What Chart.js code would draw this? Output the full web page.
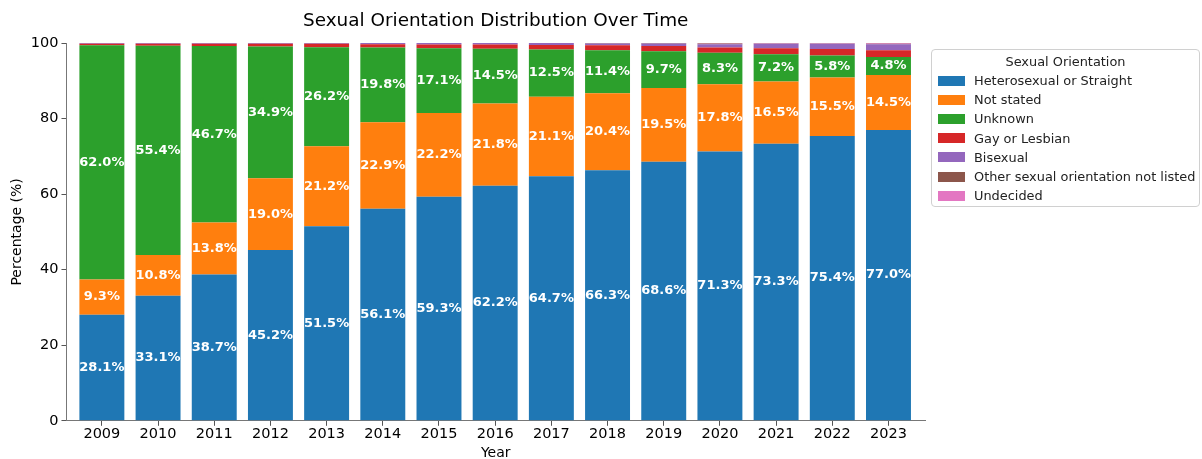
<!DOCTYPE html>
<html>
<head>
<meta charset="utf-8">
<script src="https://cdn.jsdelivr.net/npm/chart.js@4.4.0/dist/chart.umd.min.js"></script>
<style>
  body { margin: 0; background: #fff; font-family: "DejaVu Sans", sans-serif; }
  #wrap { position: relative; width: 1202px; height: 459px; }
  #legend {
    position: absolute; left: 931px; top: 49px; width: 267px; height: 156px;
    border: 1px solid #d0d0d0; border-radius: 4px; font-size: 12.9px; color: #222;
    white-space: nowrap;
  }
  #legend .ttl { text-align: center; margin-top: 4px; margin-bottom: 2px; }
  #legend .row { height: 19.2px; display: flex; align-items: center; padding-left: 6px; }
  #legend .sw { width: 27px; height: 10px; margin-right: 9px; flex: none; }
</style>
</head>
<body>
<div id="wrap">
  <canvas id="c" width="1202" height="459"></canvas>
  <div id="legend"></div>
</div>
<script>
const years = ["2009","2010","2011","2012","2013","2014","2015","2016","2017","2018","2019","2020","2021","2022","2023"];

const hetero    = [28.1, 33.1, 38.7, 45.2, 51.5, 56.1, 59.3, 62.2, 64.7, 66.3, 68.6, 71.3, 73.3, 75.4, 77.0];
const notStated = [9.3, 10.8, 13.8, 19.0, 21.2, 22.9, 22.2, 21.8, 21.1, 20.4, 19.5, 17.8, 16.5, 15.5, 14.5];
const unknown   = [62.0, 55.4, 46.7, 34.9, 26.2, 19.8, 17.1, 14.5, 12.5, 11.4, 9.7, 8.3, 7.2, 5.8, 4.8];
const gay       = [0.4, 0.5, 0.6, 0.7, 0.9, 0.9, 1.0, 1.1, 1.2, 1.3, 1.4, 1.4, 1.6, 1.7, 1.8];
const bisexual  = [0.2, 0.2, 0.2, 0.2, 0.2, 0.3, 0.4, 0.4, 0.5, 0.5, 0.7, 0.9, 1.2, 1.4, 1.6];
const other     = [0.0, 0.0, 0.0, 0.0, 0.0, 0.0, 0.0, 0.0, 0.0, 0.1, 0.1, 0.2, 0.1, 0.1, 0.1];
const undecided = [0.0, 0.0, 0.0, 0.0, 0.0, 0.0, 0.0, 0.0, 0.0, 0.0, 0.0, 0.1, 0.1, 0.1, 0.2];

const series = [
  { label: "Heterosexual or Straight", data: hetero, color: "#1f77b4", show: true },
  { label: "Not stated", data: notStated, color: "#ff7f0e", show: true },
  { label: "Unknown", data: unknown, color: "#2ca02c", show: true },
  { label: "Gay or Lesbian", data: gay, color: "#d62728", show: false },
  { label: "Bisexual", data: bisexual, color: "#9467bd", show: false },
  { label: "Other sexual orientation not listed", data: other, color: "#8c564b", show: false },
  { label: "Undecided", data: undecided, color: "#e377c2", show: false },
];

/* segment labels + title */
const labelPlugin = {
  id: "segLabels",
  afterDatasetsDraw(chart) {
    const ctx = chart.ctx;
    ctx.save();
    ctx.fillStyle = "#fff";
    ctx.font = "bold 13px 'DejaVu Sans'";
    ctx.textAlign = "center";
    ctx.textBaseline = "middle";
    chart.data.datasets.forEach((ds, i) => {
      if (!series[i].show) return;
      chart.getDatasetMeta(i).data.forEach((bar, j) => {
        const y = (bar.y + bar.base) / 2;
        ctx.fillText(series[i].data[j].toFixed(1) + "%", bar.x, y);
      });
    });
    const a = chart.chartArea;
    ctx.fillStyle = "#000";
    ctx.font = "18.4px 'DejaVu Sans'";
    ctx.textBaseline = "alphabetic";
    ctx.fillText("Sexual Orientation Distribution Over Time", (a.left + a.right) / 2, 26);
    ctx.restore();
  },
};

const chart = new Chart(document.getElementById("c"), {
  type: "bar",
  data: {
    datasets: series.map((s) => ({
      label: s.label,
      data: s.data.map((v, i) => ({ x: i, y: v })),
      backgroundColor: s.color,
      borderWidth: 0,
      barPercentage: 0.8,
      categoryPercentage: 1.0,
    })),
  },
  options: {
    responsive: false,
    animation: false,
    layout: { padding: { top: 43, right: 277, left: 9, bottom: -3 } },
    plugins: { legend: { display: false }, tooltip: { enabled: false } },
    scales: {
      x: {
        type: "linear",
        stacked: true,
        offset: false,
        min: -0.63,
        max: 14.65,
        afterBuildTicks: (scale) => { scale.ticks = years.map((_, i) => ({ value: i })); },
        grid: { display: true, offset: false, drawOnChartArea: false, tickLength: 5, color: "#555", tickColor: "#555" },
        border: { display: true, color: "#777" },
        ticks: {
          color: "#000", font: { size: 14.5, family: "DejaVu Sans" }, padding: 0,
          autoSkip: false, maxRotation: 0,
          callback: (v) => years[v],
        },
        title: { display: true, text: "Year", color: "#000", font: { size: 14, family: "DejaVu Sans" }, padding: { top: 2, bottom: 0 } },
      },
      y: {
        stacked: true,
        min: 0,
        max: 100,
        ticks: { stepSize: 20, color: "#000", font: { size: 14.5, family: "DejaVu Sans" }, padding: 3 },
        grid: { display: true, drawOnChartArea: false, tickLength: 5, color: "#555", tickColor: "#555" },
        border: { display: true, color: "#777" },
        title: { display: true, text: "Percentage (%)", color: "#000", font: { size: 14, family: "DejaVu Sans" }, padding: { top: 0, bottom: 2 } },
      },
    },
  },
  plugins: [labelPlugin],
});

/* HTML legend */
const leg = document.getElementById("legend");
leg.innerHTML = `<div class="ttl">Sexual Orientation</div>` +
  series.map((s) => `<div class="row"><span class="sw" style="background:${s.color}"></span>${s.label}</div>`).join("");
</script>
</body>
</html>
